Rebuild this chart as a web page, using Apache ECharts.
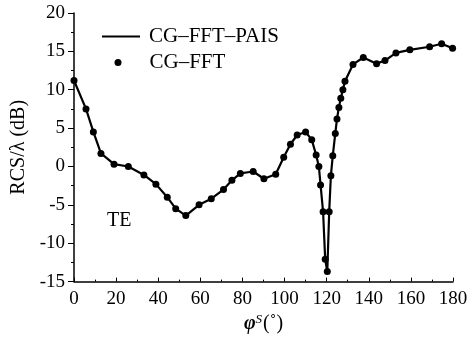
<!DOCTYPE html>
<html>
<head>
<meta charset="utf-8">
<script src="https://cdn.jsdelivr.net/npm/echarts@6/dist/echarts.min.js"></script>
<style>
  html, body { margin: 0; padding: 0; background: #fff; }
  #chart { width: 472px; height: 339px; }
</style>
</head>
<body>
<div id="chart"></div>
<script>
// scattering angle (deg)
var phi = [0, 5.7, 9.2, 12.8, 19, 25.8, 33.2, 38.9, 44.3, 48.3,
  53.1, 59.4, 65.2, 71, 75, 79, 85.1, 90.2, 95.8, 99.6,
  102.8, 106, 110, 112.9, 115, 116.3, 117.1, 118.3, 119.3, 120.3,
  121.2, 122, 122.9, 124.1, 124.9, 125.8, 126.7, 127.7, 128.7, 132.5,
  137.4, 143.7, 147.7, 152.9, 159.5, 168.9, 174.6, 179.8];

// RCS/lambda (dB)
var rcsPais = [11.2, 7.5, 4.5, 1.7, 0.3, 0.0, -1.1, -2.3, -4.0, -5.5,
  -6.4, -5.0, -4.2, -3.0, -1.8, -0.9, -0.65, -1.6, -1.0, 1.2,
  2.9, 4.1, 4.5, 3.5, 1.5, 0.0, -2.4, -5.9, -12.1, -13.7,
  -5.9, -1.2, 1.4, 4.3, 6.2, 7.7, 8.9, 10.0, 11.1, 13.3,
  14.2, 13.4, 13.8, 14.8, 15.2, 15.6, 16.0, 15.4];
var rcsFft = [11.2, 7.5, 4.5, 1.7, 0.3, 0.0, -1.1, -2.3, -4.0, -5.5,
  -6.4, -5.0, -4.2, -3.0, -1.8, -0.9, -0.65, -1.6, -1.0, 1.2,
  2.9, 4.1, 4.5, 3.5, 1.5, 0.0, -2.4, -5.9, -12.1, -13.7,
  -5.9, -1.2, 1.4, 4.3, 6.2, 7.7, 8.9, 10.0, 11.1, 13.3,
  14.2, 13.4, 13.8, 14.8, 15.2, 15.6, 16.0, 15.4];

var font = "'Liberation Serif', 'Times New Roman', serif";

function pairs(xs, ys) {
  return xs.map(function (x, i) { return [x, ys[i]]; });
}

var chart = echarts.init(document.getElementById("chart"));
chart.setOption({
  animation: false,
  textStyle: { fontFamily: font, color: "#000" },
  grid: { left: 74, right: 19, top: 13, bottom: 54 },
  legend: [
    {
      data: [{ name: "CG\u2013FFT\u2013PAIS", icon: "rect" }],
      left: 97, top: 21,
      itemWidth: 38, itemHeight: 2,
      textStyle: { fontFamily: font, fontSize: 21, color: "#000", padding: [0, 0, 0, 4] }
    },
    {
      data: [{ name: "CG\u2013FFT", icon: "circle" }],
      left: 109.5, top: 47,
      itemWidth: 7, itemHeight: 7,
      textStyle: { fontFamily: font, fontSize: 21, color: "#000", padding: [0, 0, 0, 23] }
    }
  ],
  xAxis: {
    type: "value",
    min: 0, max: 180, interval: 20,
    name: "{phi|\u03C6}{sup|S}{par|(\u02DA)}",
    nameLocation: "middle",
    nameGap: 29,
    nameTextStyle: {
      rich: {
        phi: { fontFamily: font, fontSize: 20, fontStyle: "italic", fontWeight: "bold", color: "#000" },
        sup: { fontFamily: font, fontSize: 13, fontStyle: "italic", color: "#000", verticalAlign: "top", padding: [0, 1, 8, 0] },
        par: { fontFamily: font, fontSize: 20, color: "#000" }
      }
    },
    axisLine: { onZero: false, lineStyle: { color: "#000", width: 1.5 } },
    axisTick: { inside: true, length: 4, lineStyle: { color: "#000" } },
    minorTick: { show: true, splitNumber: 2, length: 2, lineStyle: { color: "#000" } },
    axisLabel: { fontFamily: font, fontSize: 19, color: "#000", margin: 8 },
    splitLine: { show: false }
  },
  yAxis: {
    type: "value",
    min: -15, max: 20, interval: 5,
    name: "RCS/\u03BB (dB)",
    nameLocation: "middle",
    nameGap: 44,
    nameTextStyle: { fontFamily: font, fontSize: 20, color: "#000" },
    axisLine: { show: true, onZero: false, lineStyle: { color: "#000", width: 1.5 } },
    axisTick: { length: 6, lineStyle: { color: "#000" } },
    minorTick: { show: true, splitNumber: 2, length: 3, lineStyle: { color: "#000" } },
    axisLabel: { fontFamily: font, fontSize: 19, color: "#000", margin: 9 },
    splitLine: { show: false }
  },
  graphic: [
    {
      type: "text",
      left: 107, top: 211,
      style: { text: "TE", fontFamily: font, fontSize: 20, fill: "#000" }
    }
  ],
  series: [
    {
      name: "CG\u2013FFT\u2013PAIS",
      type: "line",
      data: pairs(phi, rcsPais),
      symbol: "none",
      lineStyle: { color: "#000", width: 2.2 },
      itemStyle: { color: "#000" },
      z: 2
    },
    {
      name: "CG\u2013FFT",
      type: "scatter",
      data: pairs(phi, rcsFft),
      symbol: "circle",
      symbolSize: 7,
      itemStyle: { color: "#000", opacity: 1 },
      z: 3
    }
  ]
});
</script>
</body>
</html>
